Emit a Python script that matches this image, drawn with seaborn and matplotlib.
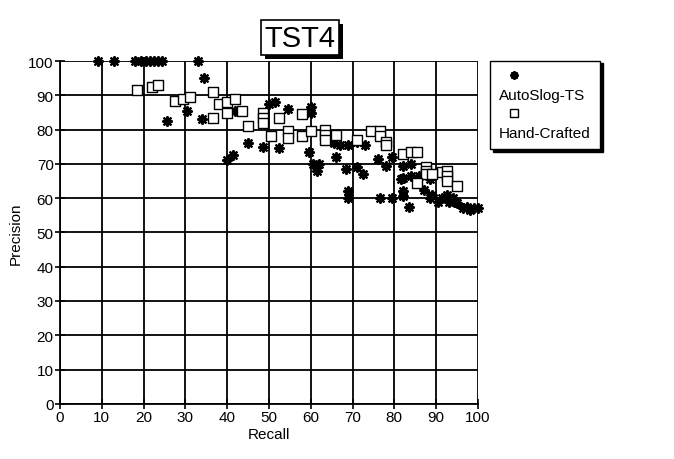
import matplotlib
matplotlib.use("Agg")
import matplotlib.pyplot as plt
import matplotlib.patheffects as pe
from matplotlib.lines import Line2D
import pandas as pd
import seaborn as sns

# AutoSlog-TS points (recall, precision)
auto_recall = [9, 13, 18, 19.5, 20.5, 21.5, 22.5, 23.5, 24.5, 33,
               34.5, 25.5, 30.5, 34, 40, 41.5, 42, 45,
               50, 51.5, 54.5, 60, 60, 48.5, 52.5, 59.5, 60.5, 61.5, 61.5, 62,
               66, 65.5, 67, 69, 71, 73, 68.5, 71, 72.5, 69, 69,
               76, 76.5, 79.5, 78, 82, 84, 82, 79.5, 82, 85.5, 81.5, 84,
               82, 83.5, 86, 88.5, 87, 89, 88.5, 90.5, 92.5, 94, 95, 97.5,
               99, 100, 96.5, 98, 94.5, 93, 91.5]
auto_precision = [100, 100, 100, 100, 100, 100, 100, 100, 100, 100,
                  95, 82.5, 85.5, 83, 71, 72.5, 85.5, 76,
                  87.5, 88, 86, 86.5, 85, 75, 74.5, 73.5, 70, 69, 68, 70,
                  72, 76, 75.5, 75.5, 76.5, 75.5, 68.5, 69, 67, 62, 60,
                  71.5, 60, 72, 69.5, 69.5, 70, 66, 60, 62, 65.5, 65.5, 66.5,
                  60.5, 57.5, 66.5, 65.5, 62.5, 61, 60, 59, 61, 60, 58.5, 57.5,
                  57, 57, 57, 56.5, 59, 59, 60]

# Hand-Crafted points (recall, precision)
hand_recall = [18.5, 22, 23.5, 27.5, 29.5, 31, 36.5, 38, 40, 42, 40, 43.5, 36.5, 45,
               48.5, 48.5, 48.5, 52.5, 58, 50.5, 54.5, 54.5, 58, 60,
               63.5, 63.5, 63.5, 66, 71, 74.5, 76.5, 76.5, 78, 78,
               82, 84, 85.5, 87.5, 87.5, 87.5, 91.5, 92.5, 92.5, 92.5, 95, 89, 85.5]
hand_precision = [91.5, 92.5, 93, 88.5, 89, 89.5, 91, 87.5, 88, 89, 85, 85.5, 83.5, 81,
                  85, 83.5, 82, 83.5, 84.5, 78, 79.5, 77.5, 78, 79.5,
                  80, 78.5, 77, 78.5, 77, 79.5, 79.5, 78, 76.5, 75.5,
                  73, 73.5, 73.5, 69, 68, 67, 67.5, 68, 66.5, 65, 63.5, 67, 64.5]

series_names = ["AutoSlog-TS", "Hand-Crafted"]
x_ticks = list(range(0, 101, 10))
y_ticks = list(range(0, 101, 10))

auto_df = pd.DataFrame({"Recall": auto_recall, "Precision": auto_precision})
hand_df = pd.DataFrame({"Recall": hand_recall, "Precision": hand_precision})

sns.set_theme(style="white")
plt.rcParams["font.family"] = ["Liberation Sans", "DejaVu Sans"]

fig = plt.figure(figsize=(6.74, 4.6), dpi=100)
ax = fig.add_axes([0.089, 0.12, 0.62, 0.745])

star = (8, 2, 0)
sns.scatterplot(data=auto_df, x="Recall", y="Precision", ax=ax, marker=star,
                s=40, color="black", linewidth=1.6, edgecolor="black",
                zorder=3, clip_on=False)
sns.scatterplot(data=hand_df, x="Recall", y="Precision", ax=ax, marker="s",
                s=42, facecolor="white", edgecolor="black", linewidth=1.0,
                zorder=4, clip_on=False)

ax.set_xlim(0, 100)
ax.set_ylim(0, 100)
ax.set_xticks(x_ticks)
ax.set_yticks(y_ticks)
ax.grid(True, color="black", linewidth=1.3)
ax.set_axisbelow(True)
for side in ["top", "right"]:
    ax.spines[side].set_visible(False)
for side in ["left", "bottom"]:
    ax.spines[side].set_color("black")
    ax.spines[side].set_linewidth(1.3)
ax.tick_params(axis="both", direction="inout", length=7, width=1.2,
               colors="black", labelsize=11, pad=1,
               bottom=True, left=True)
ax.set_xlabel("Recall", fontsize=11, labelpad=2, color="black")
ax.set_ylabel("Precision", fontsize=11, labelpad=4, color="black")

title = ax.set_title("TST4", fontsize=21, x=0.574, pad=11, color="black",
                     bbox=dict(boxstyle="square,pad=0.12", fc="white",
                               ec="black", lw=1.2))
title.get_bbox_patch().set_path_effects([
    pe.SimplePatchShadow(offset=(3, -3), shadow_rgbFace="black", alpha=1),
    pe.Normal(),
])

# legend: marker on its own row, label on the row below
blank = Line2D([], [], linestyle="none", marker="none")
handles = [
    Line2D([], [], linestyle="none", marker=star, markersize=6,
           color="black", markeredgewidth=1.5),
    blank,
    Line2D([], [], linestyle="none", marker="s", markersize=6,
           markerfacecolor="white", markeredgecolor="black", markeredgewidth=1),
    blank,
]
labels = [" ", series_names[0], " ", series_names[1]]
leg = fig.legend(handles, labels, loc="upper left",
                 bbox_to_anchor=(0.727, 0.866), frameon=True, fancybox=False,
                 shadow={"color": "black", "alpha": 1}, edgecolor="black",
                 handlelength=2.0, handletextpad=-2.0, borderpad=0.6,
                 labelspacing=0.3, fontsize=11, borderaxespad=0)
leg.get_frame().set_linewidth(1.0)
for t in leg.get_texts():
    t.set_color("black")

fig.savefig("out.png", dpi=100, facecolor="white")
